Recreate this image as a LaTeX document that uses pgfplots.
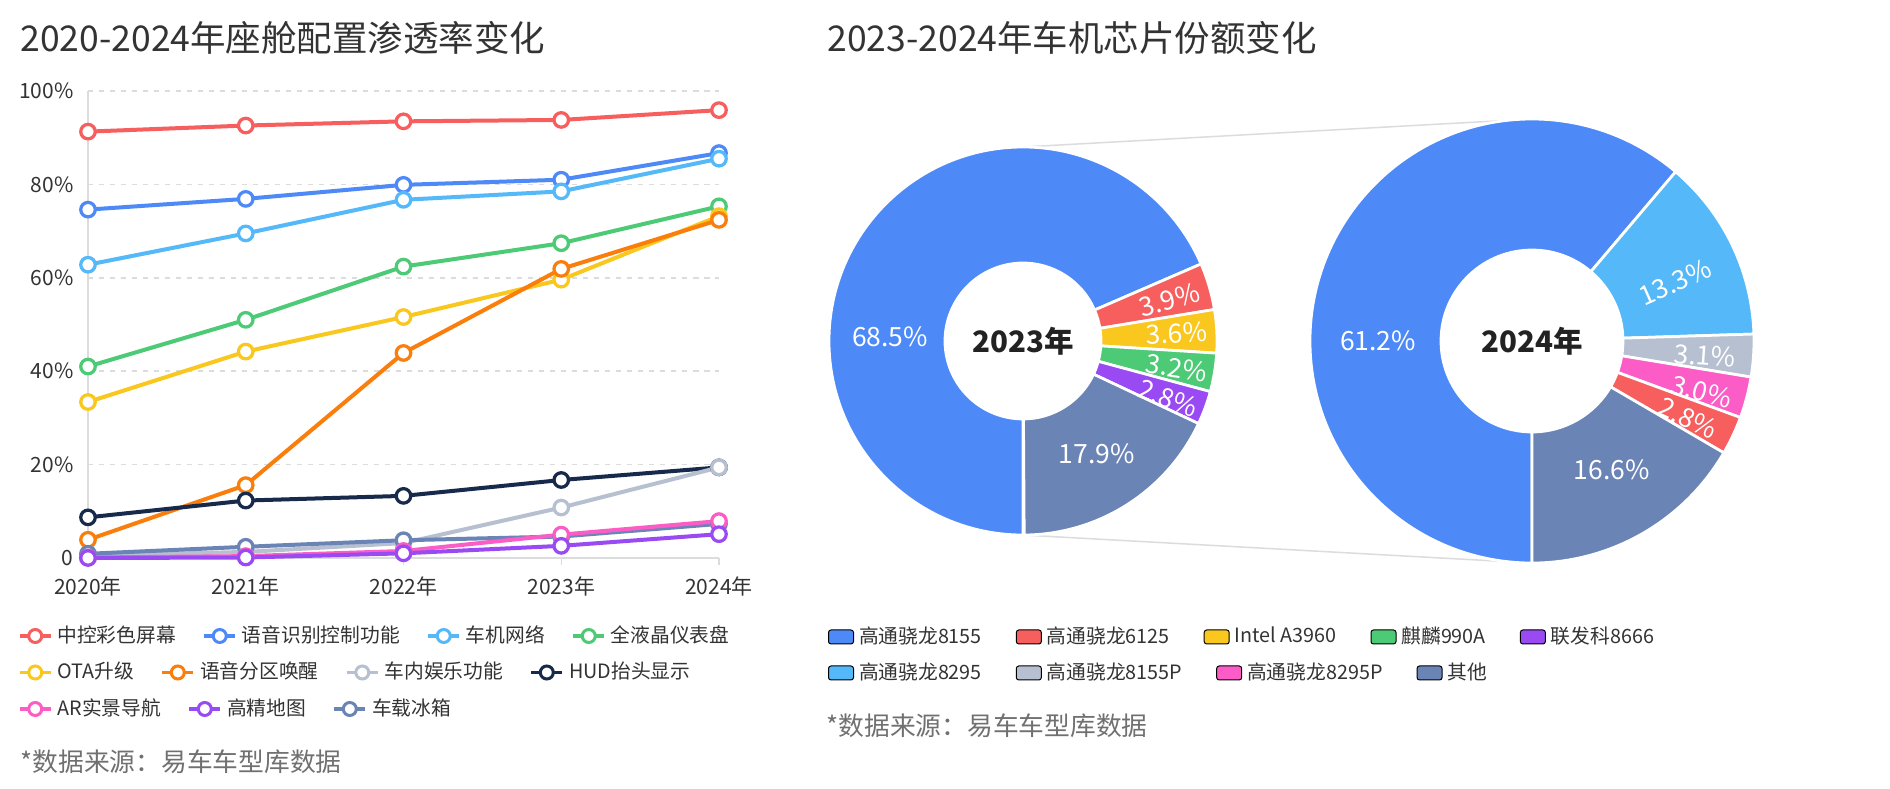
\documentclass[border=0pt]{standalone}
\usepackage{pgfplots}
\pgfplotsset{compat=1.18}
\usepackage{pgfplotstable}
\usepackage{fontspec}
\setmainfont{Noto Sans CJK SC}

\definecolor{cred}{HTML}{F65F5E}
\definecolor{cblue}{HTML}{4D8AF8}
\definecolor{clblue}{HTML}{55B8F8}
\definecolor{cgreen}{HTML}{4DCA75}
\definecolor{cyellow}{HTML}{FAC71E}
\definecolor{corange}{HTML}{FA7E0C}
\definecolor{cgray}{HTML}{B7C0D0}
\definecolor{cnavy}{HTML}{172A4B}
\definecolor{cpink}{HTML}{FB5CC6}
\definecolor{cpurple}{HTML}{9A4AF2}
\definecolor{cslate}{HTML}{6A84B6}
\definecolor{ctext}{HTML}{333333}
\definecolor{csrc}{HTML}{707070}
\definecolor{cgrid}{HTML}{DCDCDC}
\definecolor{cdark}{HTML}{222222}

\newcommand{\titlefont}{\fontsize{14.2pt}{17pt}\selectfont}
\newcommand{\tickfont}{\fontsize{8.4pt}{10pt}\selectfont}
\newcommand{\legfont}{\fontsize{7.9pt}{9pt}\selectfont}
\newcommand{\srcfont}{\fontsize{10.3pt}{12pt}\selectfont}
\newcommand{\pctfont}{\fontsize{10.6pt}{12pt}\selectfont}
\newcommand{\yearfont}{\fontsize{11.8pt}{14pt}\selectfont\bfseries}

\pgfplotstableread{
year zk yy cj yj ota fq yl hud ar gj bx
2020 91.3 74.6 62.8 41.0 33.4 3.9 0.5 8.7 0.1 0.0 0.9
2021 92.6 76.9 69.5 51.0 44.2 15.6 1.3 12.3 0.4 0.1 2.4
2022 93.5 79.9 76.7 62.4 51.6 43.9 3.2 13.3 1.5 1.0 3.8
2023 93.8 81.0 78.5 67.4 59.6 61.9 10.8 16.7 5.0 2.6 4.6
2024 95.9 86.7 85.5 75.3 73.2 72.4 19.4 19.4 7.9 5.1 7.3
}\pentab

\pgfplotsset{
  legline/.style={legend image code/.code={
    \draw[line width=1.4pt] (0pt,0pt) -- (12.4pt,0pt);
    \draw[line width=1.2pt, fill=white] (6.2pt,0pt) circle[radius=2.6pt];}},
  legsq/.style={legend image code/.code={
    \fill[rounded corners=1pt] (0pt,-2.8pt) rectangle (10pt,2.8pt);}},
  legaxis/.style={hide axis, scale only axis, width=1pt, height=1pt,
    xmin=0, xmax=1, ymin=0, ymax=1, anchor=south west,
    legend style={at={(0,0.5)}, anchor=west, draw=none, fill=none,
      inner sep=0pt, outer sep=0pt, font=\legfont, text=ctext,
      legend columns=-1,
      /tikz/every odd column/.append style={column sep=0pt},
      /tikz/every even column/.append style={column sep=#1}}},
}

\begin{document}
\begin{tikzpicture}
\fill[white] (0,0) rectangle (756pt,315.6pt);
\useasboundingbox (0,0) rectangle (756pt,315.6pt);

% ---------------- line chart ----------------
\begin{axis}[
  at={(35.2pt,92.4pt)}, anchor=south west,
  scale only axis, width=252.4pt, height=186.8pt,
  xmin=2020, xmax=2024, ymin=0, ymax=100,
  xtick={2020,2021,2022,2023,2024},
  xticklabels={2020年,2021年,2022年,2023年,2024年},
  ytick={0,20,40,60,80,100},
  yticklabels={0,20\%,40\%,60\%,80\%,100\%},
  axis x line*=bottom, axis y line*=left,
  axis line style={draw=cgrid, line width=0.6pt, -},
  ymajorgrids, grid style={cgrid, line width=0.6pt, dash pattern=on 2.2pt off 2.2pt},
  xtick style={draw=cgrid, line width=0.6pt}, ytick style={draw=none},
  tick align=outside, major tick length=2.8pt,
  tick label style={font=\tickfont, text=ctext},
  xticklabel style={yshift=-1pt},
  yticklabel style={xshift=0.5pt},
  clip=false,
  every axis plot/.append style={line width=1.6pt, mark=*, mark size=2.9pt,
     mark options={solid, fill=white, line width=1.3pt}},
]
\addplot[cred] table[x=year,y=zk]{\pentab};
\addplot[cblue] table[x=year,y=yy]{\pentab};
\addplot[clblue] table[x=year,y=cj]{\pentab};
\addplot[cgreen] table[x=year,y=yj]{\pentab};
\addplot[cyellow] table[x=year,y=ota]{\pentab};
\addplot[corange] table[x=year,y=fq]{\pentab};
\addplot[cnavy] table[x=year,y=hud]{\pentab};
\addplot[cgray] table[x=year,y=yl]{\pentab};
\addplot[cslate] table[x=year,y=bx]{\pentab};
\addplot[cpink] table[x=year,y=ar]{\pentab};
\addplot[cpurple] table[x=year,y=gj]{\pentab};
\end{axis}

% ---------------- left legends ----------------
\begin{axis}[legaxis=8.6pt, at={(7.2pt,60.7pt)}]
\addlegendimage{legline, cred}\addlegendentry{中控彩色屏幕}
\addlegendimage{legline, cblue}\addlegendentry{语音识别控制功能}
\addlegendimage{legline, clblue}\addlegendentry{车机网络}
\addlegendimage{legline, cgreen}\addlegendentry{全液晶仪表盘}
\end{axis}
\begin{axis}[legaxis=8.6pt, at={(7.2pt,46.1pt)}]
\addlegendimage{legline, cyellow}\addlegendentry{OTA升级}
\addlegendimage{legline, corange}\addlegendentry{语音分区唤醒}
\addlegendimage{legline, cgray}\addlegendentry{车内娱乐功能}
\addlegendimage{legline, cnavy}\addlegendentry{HUD抬头显示}
\end{axis}
\begin{axis}[legaxis=8.6pt, at={(7.2pt,31.5pt)}]
\addlegendimage{legline, cpink}\addlegendentry{AR实景导航}
\addlegendimage{legline, cpurple}\addlegendentry{高精地图}
\addlegendimage{legline, cslate}\addlegendentry{车载冰箱}
\end{axis}

% ---------------- right legends ----------------
\begin{axis}[legaxis=11.6pt, at={(331.2pt,60.3pt)}]
\addlegendimage{legsq, fill=cblue}\addlegendentry{高通骁龙8155}
\addlegendimage{legsq, fill=cred}\addlegendentry{高通骁龙6125}
\addlegendimage{legsq, fill=cyellow}\addlegendentry{Intel A3960}
\addlegendimage{legsq, fill=cgreen}\addlegendentry{麒麟990A}
\addlegendimage{legsq, fill=cpurple}\addlegendentry{联发科8666}
\end{axis}
\begin{axis}[legaxis=11.6pt, at={(331.2pt,45.9pt)}]
\addlegendimage{legsq, fill=clblue}\addlegendentry{高通骁龙8295}
\addlegendimage{legsq, fill=cgray}\addlegendentry{高通骁龙8155P}
\addlegendimage{legsq, fill=cpink}\addlegendentry{高通骁龙8295P}
\addlegendimage{legsq, fill=cslate}\addlegendentry{其他}
\end{axis}

% ---------------- overlay: titles + donuts ----------------
\begin{axis}[at={(0pt,0pt)}, anchor=south west, scale only axis,
  width=756pt, height=315.6pt, xmin=0, xmax=1890, ymin=0, ymax=789,
  y dir=reverse, hide axis, clip=false]
\node[anchor=west, font=\titlefont, text=ctext, inner sep=0pt] at (axis cs:20,38) {2020-2024年座舱配置渗透率变化};
\node[anchor=west, font=\titlefont, text=ctext, inner sep=0pt] at (axis cs:827,38) {2023-2024年车机芯片份额变化};
\node[anchor=west, font=\srcfont, text=csrc, inner sep=0pt] at (axis cs:20,762) {*数据来源：易车车型库数据};
\node[anchor=west, font=\srcfont, text=csrc, inner sep=0pt] at (axis cs:826,726) {*数据来源：易车车型库数据};
\pgfplotsextra{
  \draw[cgrid, line width=0.6pt] (axis cs:1023,147) -- (axis cs:1532,119);
  \draw[cgrid, line width=0.6pt] (axis cs:1023,535) -- (axis cs:1532,563);
  % 2023 donut
  \begin{scope}[shift={(axis cs:1023,341)}]
    \gdef\dstart{270}
    \foreach \v/\c in {68.5/cblue, 3.9/cred, 3.6/cyellow, 3.2/cgreen, 2.8/cpurple, 17.9/cslate}{
      \pgfmathsetmacro\dend{\dstart-3.6*\v}
      \filldraw[fill=\c, draw=white, line width=1.1pt, line join=round]
        (\dstart:77.6pt) arc[start angle=\dstart, end angle=\dend, radius=77.6pt]
        -- (\dend:31.2pt) arc[start angle=\dend, end angle=\dstart, radius=31.2pt] -- cycle;
      \xdef\dstart{\dend}
    }
    \foreach \v/\la/\lr/\rot in {68.5/178/53.2pt/0, 3.9/15.6/60.8pt/16, 3.6/2.9/61.6pt/3, 3.2/-9.9/62.4pt/-9, 2.8/-21.5/62.4pt/-20, 17.9/-57/54pt/0}{
      \node[font=\pctfont, text=white, rotate=\rot, inner sep=0pt] at (\la:\lr) {\v\%};
    }
    \node[font=\yearfont, text=cdark] at (0,0) {2023年};
  \end{scope}
  % 2024 donut
  \begin{scope}[shift={(axis cs:1532,341)}]
    \gdef\dstart{270}
    \foreach \v/\c in {61.2/cblue, 13.3/clblue, 3.1/cgray, 3.0/cpink, 2.8/cred, 16.6/cslate}{
      \pgfmathsetmacro\dend{\dstart-3.6*\v}
      \filldraw[fill=\c, draw=white, line width=1.1pt, line join=round]
        (\dstart:88.8pt) arc[start angle=\dstart, end angle=\dend, radius=88.8pt]
        -- (\dend:36.4pt) arc[start angle=\dend, end angle=\dstart, radius=36.4pt] -- cycle;
      \xdef\dstart{\dend}
    }
    \foreach \v/\la/\lr/\rot in {61.2/180/61.6pt/0, 13.3/22.3/61.8pt/24, 3.1/-4.9/69.4pt/-4, 3.0/-16.6/70.8pt/-15, 2.8/-26.3/69.6pt/-25, 16.6/-58.3/60.6pt/0}{
      \node[font=\pctfont, text=white, rotate=\rot, inner sep=0pt] at (\la:\lr) {\v\%};
    }
    \node[font=\yearfont, text=cdark] at (0,0) {2024年};
  \end{scope}
}
\end{axis}
\end{tikzpicture}
\end{document}
